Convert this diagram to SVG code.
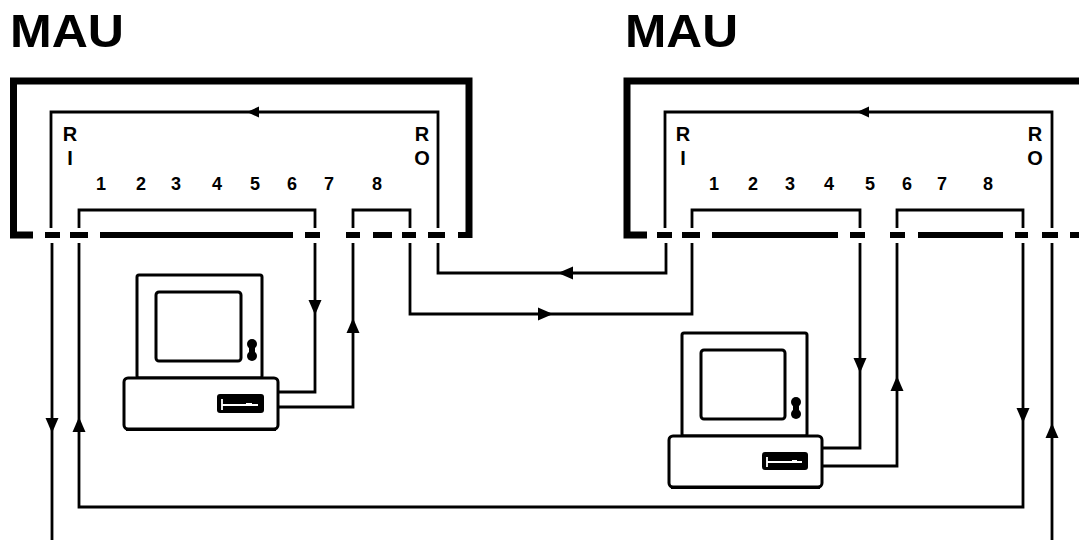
<svg xmlns="http://www.w3.org/2000/svg" xmlns:xlink="http://www.w3.org/1999/xlink" width="1079" height="540" viewBox="0 0 1079 540">
<style>
.frame{fill:none;stroke:#000;stroke-width:7;stroke-linejoin:miter}
.dash{stroke:#000;stroke-width:6;stroke-linecap:butt}
.wire{fill:none;stroke:#000;stroke-width:2.8;stroke-linejoin:miter}
.title{font-family:"Liberation Sans",Arial,sans-serif;font-weight:bold;font-size:47px;fill:#000}
.lbl{font-family:"Liberation Sans",Arial,sans-serif;font-weight:bold;font-size:20px;fill:#000;text-anchor:middle}
.num{font-family:"Liberation Sans",Arial,sans-serif;font-weight:bold;font-size:18px;fill:#000;text-anchor:middle}
.box{fill:#fff;stroke:#000;stroke-width:3}
.slot{fill:#000}
.key{fill:none;stroke:#fff;stroke-width:1.8}
</style>
<defs>
<path id="ah" d="M0,0 L-15,-6.5 L-15,6.5 Z" fill="#000"/>
<path id="ahs" d="M0,0 L-12,-5.5 L-12,5.5 Z" fill="#000"/>
</defs>
<rect width="1079" height="540" fill="#fff"/>

<g id="mau-left">
<text class="title" x="10" y="47" textLength="114" lengthAdjust="spacingAndGlyphs">MAU</text>
<path class="frame" d="M33,235 H13.5 V81 H469 V238"/>
<g class="dash">
<line x1="45" y1="235" x2="60" y2="235"/>
<line x1="70" y1="235" x2="88" y2="235"/>
<line x1="100" y1="235" x2="293" y2="235"/>
<line x1="305" y1="235" x2="320" y2="235"/>
<line x1="346" y1="235" x2="360" y2="235"/>
<line x1="373" y1="235" x2="392" y2="235"/>
<line x1="402" y1="235" x2="416" y2="235"/>
<line x1="428" y1="235" x2="445" y2="235"/>
<line x1="458" y1="235" x2="472" y2="235"/>
</g>
<text class="lbl" x="70" y="141">R</text>
<text class="lbl" x="70" y="165">I</text>
<text class="lbl" x="422" y="141">R</text>
<text class="lbl" x="422" y="165">O</text>
<text class="num" x="101" y="190">1</text>
<text class="num" x="141" y="190">2</text>
<text class="num" x="176" y="190">3</text>
<text class="num" x="217" y="190">4</text>
<text class="num" x="255" y="190">5</text>
<text class="num" x="292" y="190">6</text>
<text class="num" x="329" y="190">7</text>
<text class="num" x="377" y="190">8</text>
</g>

<g id="mau-right">
<text class="title" x="625" y="47" textLength="113" lengthAdjust="spacingAndGlyphs">MAU</text>
<path class="frame" d="M647,235 H627 V81 H1085"/>
<g class="dash">
<line x1="657" y1="235" x2="672" y2="235"/>
<line x1="682" y1="235" x2="700" y2="235"/>
<line x1="712" y1="235" x2="838" y2="235"/>
<line x1="850" y1="235" x2="865" y2="235"/>
<line x1="890" y1="235" x2="905" y2="235"/>
<line x1="918" y1="235" x2="1003" y2="235"/>
<line x1="1015" y1="235" x2="1028" y2="235"/>
<line x1="1042" y1="235" x2="1058" y2="235"/>
<line x1="1070" y1="235" x2="1079" y2="235"/>
</g>
<text class="lbl" x="683" y="141">R</text>
<text class="lbl" x="683" y="165">I</text>
<text class="lbl" x="1035" y="141">R</text>
<text class="lbl" x="1035" y="165">O</text>
<text class="num" x="714" y="190">1</text>
<text class="num" x="753" y="190">2</text>
<text class="num" x="790" y="190">3</text>
<text class="num" x="829" y="190">4</text>
<text class="num" x="870" y="190">5</text>
<text class="num" x="907" y="190">6</text>
<text class="num" x="942" y="190">7</text>
<text class="num" x="988" y="190">8</text>
</g>

<g id="pc-left">
<rect class="box" x="137" y="275" width="125" height="103" rx="2"/>
<rect class="box" x="156" y="292" width="85" height="69" rx="3"/>
<circle cx="252" cy="344" r="5" fill="#000"/>
<circle cx="252" cy="356" r="5" fill="#000"/>
<rect x="249" y="344" width="6" height="12" fill="#000"/>
<rect class="box" x="124" y="378" width="154" height="51" rx="4"/>
<line x1="126" y1="430" x2="276" y2="430" stroke="#000" stroke-width="2"/>
<rect class="slot" x="217" y="394" width="47" height="19" rx="3"/>
<path class="key" d="M222,399 V410 M222,405 H258 M246,404 H252"/>
</g>

<g id="pc-right">
<rect class="box" x="682" y="333" width="125" height="103" rx="2"/>
<rect class="box" x="701" y="350" width="84" height="69" rx="3"/>
<circle cx="796" cy="402" r="5" fill="#000"/>
<circle cx="796" cy="414" r="5" fill="#000"/>
<rect x="793" y="402" width="6" height="12" fill="#000"/>
<rect class="box" x="669" y="436" width="153" height="51" rx="4"/>
<line x1="671" y1="488" x2="820" y2="488" stroke="#000" stroke-width="2"/>
<rect class="slot" x="762" y="452" width="46" height="18" rx="3"/>
<path class="key" d="M767,457 V467 M767,462 H802 M792,461 H797"/>
</g>

<g id="connectors">
<path class="wire" d="M51,228 V112 H438 V228"/>
<path class="wire" d="M79,228 V210 H315 V228"/>
<path class="wire" d="M353,228 V210 H410 V228"/>
<path class="wire" d="M665,228 V112 H1052 V228"/>
<path class="wire" d="M692,228 V210 H860 V228"/>
<path class="wire" d="M897,228 V210 H1023 V228"/>
<path class="wire" d="M52,243 V540"/>
<path class="wire" d="M79,243 V507 H1023 V243"/>
<path class="wire" d="M315,243 V392 H278"/>
<path class="wire" d="M353,243 V407 H278"/>
<path class="wire" d="M410,243 V314 H692 V243"/>
<path class="wire" d="M438,243 V273 H666 V243"/>
<path class="wire" d="M860,243 V448 H822"/>
<path class="wire" d="M897,243 V466 H822"/>
<path class="wire" d="M1052,243 V540"/>
<use xlink:href="#ahs" transform="translate(247,112) rotate(180)"/>
<use xlink:href="#ahs" transform="translate(857,112) rotate(180)"/>
<use xlink:href="#ah" transform="translate(315,315) rotate(90)"/>
<use xlink:href="#ah" transform="translate(353,318) rotate(-90)"/>
<use xlink:href="#ah" transform="translate(553,314)"/>
<use xlink:href="#ah" transform="translate(558,273) rotate(180)"/>
<use xlink:href="#ah" transform="translate(860,373) rotate(90)"/>
<use xlink:href="#ah" transform="translate(897,376) rotate(-90)"/>
<use xlink:href="#ah" transform="translate(52,433) rotate(90)"/>
<use xlink:href="#ah" transform="translate(79,417) rotate(-90)"/>
<use xlink:href="#ah" transform="translate(1023,423) rotate(90)"/>
<use xlink:href="#ah" transform="translate(1052,423) rotate(-90)"/>
</g>
</svg>
